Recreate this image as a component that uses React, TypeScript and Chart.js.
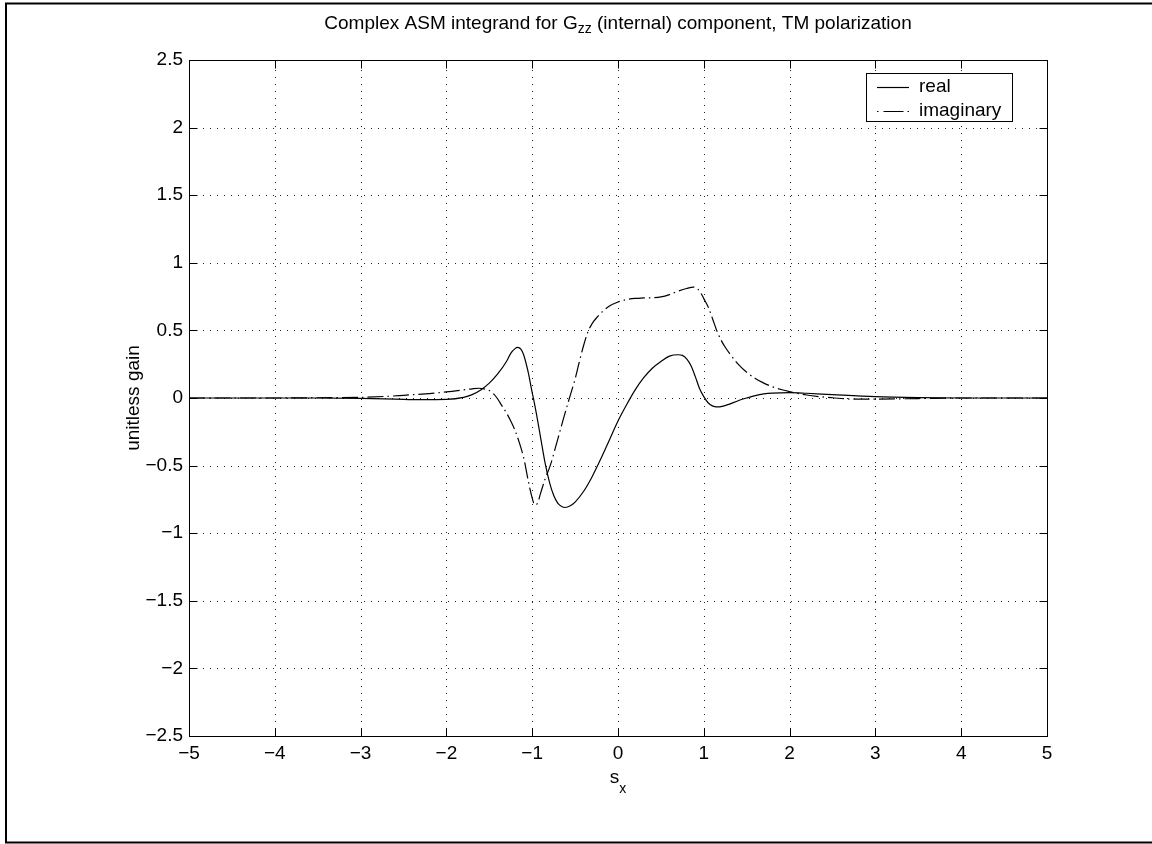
import { useEffect, useRef } from 'react';
import { Chart, registerables } from 'chart.js';

Chart.register(...registerables);

// Real part of the integrand, sampled along s_x
const sxReal = [
  -5, -4, -3.5, -3, -2.6, -2.3, -2.0, -1.8, -1.7, -1.6, -1.5, -1.4, -1.3, -1.25, -1.2, -1.17,
  -1.13, -1.1, -1.05, -1.0, -0.98, -0.95, -0.9, -0.85, -0.8, -0.75, -0.7, -0.65, -0.62, -0.55,
  -0.5, -0.4, -0.3, -0.2, -0.1, 0, 0.1, 0.2, 0.3, 0.4, 0.5, 0.6, 0.7, 0.75, 0.8, 0.85, 0.9,
  0.95, 1.0, 1.05, 1.1, 1.15, 1.2, 1.3, 1.4, 1.5, 1.6, 1.7, 1.8, 2.0, 2.2, 2.5, 3.0, 3.5, 4, 5,
];
const realPart = [
  0, 0, 0, -0.003, -0.008, -0.012, -0.01, 0.005, 0.025, 0.06, 0.11, 0.18, 0.27, 0.33, 0.365, 0.375,
  0.36, 0.32, 0.2, 0.04, -0.02, -0.12, -0.3, -0.48, -0.62, -0.72, -0.78, -0.805, -0.81, -0.795,
  -0.77, -0.69, -0.58, -0.45, -0.31, -0.17, -0.05, 0.06, 0.15, 0.22, 0.27, 0.31, 0.32, 0.315, 0.29, 0.24, 0.16,
  0.07, 0.01, -0.035, -0.058, -0.066, -0.064, -0.045, -0.02, 0.0, 0.018, 0.03, 0.036, 0.04, 0.035, 0.025, 0.01, 0.003, 0, 0,
];

// Imaginary part of the integrand, sampled along s_x
const sxImag = [
  -5, -4, -3.5, -3, -2.7, -2.5, -2.2, -2.0, -1.8, -1.7, -1.62, -1.55, -1.5, -1.45, -1.41, -1.35,
  -1.3, -1.25, -1.2, -1.15, -1.1, -1.08, -1.05, -1.0, -0.97, -0.94, -0.9, -0.85, -0.79, -0.7,
  -0.63, -0.566, -0.5, -0.45, -0.4, -0.35, -0.32, -0.28, -0.24, -0.18, -0.1, 0, 0.1, 0.2, 0.3,
  0.4, 0.5, 0.6, 0.7, 0.8, 0.88, 0.93, 0.98, 1.0, 1.05, 1.1, 1.15, 1.2, 1.25, 1.3, 1.4, 1.5,
  1.6, 1.7, 1.8, 1.9, 2.0, 2.2, 2.35, 2.5, 2.73, 3.0, 3.5, 4, 5,
];
const imagPart = [
  0, 0, 0.002, 0.005, 0.012, 0.02, 0.033, 0.045, 0.06, 0.068, 0.072, 0.066, 0.055, 0.03, 0.0, -0.06,
  -0.11, -0.17, -0.24, -0.33, -0.44, -0.5, -0.6, -0.74, -0.79, -0.78, -0.7, -0.6, -0.5, -0.3,
  -0.14, 0, 0.14, 0.27, 0.39, 0.49, 0.53, 0.57, 0.6, 0.64, 0.68, 0.71, 0.728, 0.737, 0.74,
  0.742, 0.748, 0.765, 0.79, 0.81, 0.82, 0.805, 0.76, 0.735, 0.675, 0.59, 0.5, 0.43, 0.375, 0.33, 0.25, 0.19,
  0.145, 0.11, 0.083, 0.063, 0.047, 0.022, 0.01, 0.002, -0.008, -0.008, -0.004, 0, 0,
];

const xTicks = [-5, -4, -3, -2, -1, 0, 1, 2, 3, 4, 5];
const yTicks = [-2.5, -2, -1.5, -1, -0.5, 0, 0.5, 1, 1.5, 2, 2.5];

const titleMain = 'Complex ASM integrand for G';
const titleSub = 'zz';
const titleTail = ' (internal) component, TM polarization';
const xLabelMain = 's';
const xLabelSub = 'x';
const yLabel = 'unitless gain';
const seriesNames = ['real', 'imaginary'];

const FONT = '"Liberation Sans", Arial, Helvetica, sans-serif';
const FONT_SIZE = 19;
const SUB_SIZE = 14;
const DASH_DOT = [16, 4, 1.5, 4];

const fmt = (v: number) => String(v).replace('-', '\u2212');

const framePlugin = {
  id: 'matlabFrame',
  beforeDraw(chart: any) {
    const { ctx, width, height } = chart;
    ctx.save();
    ctx.fillStyle = '#ffffff';
    ctx.fillRect(0, 0, width, height);
    // figure border
    ctx.strokeStyle = '#000';
    ctx.lineWidth = 2;
    ctx.beginPath();
    ctx.moveTo(width + 5, 3.5);
    ctx.lineTo(6, 3.5);
    ctx.lineTo(6, 842.5);
    ctx.lineTo(width + 5, 842.5);
    ctx.stroke();
    ctx.restore();
  },
  beforeDatasetsDraw(chart: any) {
    const { ctx, chartArea: a, scales } = chart;
    const xs = scales.x;
    const ys = scales.y;
    ctx.save();
    ctx.strokeStyle = '#222';
    ctx.lineWidth = 1;
    ctx.setLineDash([1, 6]);
    xTicks.slice(1, -1).forEach((v) => {
      const px = Math.round(xs.getPixelForValue(v)) + 0.5;
      ctx.beginPath();
      ctx.moveTo(px, a.bottom);
      ctx.lineTo(px, a.top);
      ctx.stroke();
    });
    yTicks.slice(1, -1).forEach((v) => {
      const py = Math.round(ys.getPixelForValue(v)) + 0.5;
      ctx.beginPath();
      ctx.moveTo(a.left, py);
      ctx.lineTo(a.right, py);
      ctx.stroke();
    });
    ctx.restore();
  },
  afterDatasetsDraw(chart: any) {
    const { ctx, chartArea: a, scales } = chart;
    const xs = scales.x;
    const ys = scales.y;
    const L = Math.round(a.left) + 0.5;
    const R = Math.round(a.right) + 0.5;
    const T = Math.round(a.top) + 0.5;
    const B = Math.round(a.bottom) + 0.5;
    ctx.save();
    ctx.strokeStyle = '#000';
    ctx.lineWidth = 1;
    ctx.setLineDash([]);
    ctx.strokeRect(L, T, R - L, B - T);
    // inward tick marks on all four sides
    const tl = 8;
    ctx.beginPath();
    xTicks.forEach((v) => {
      const px = Math.round(xs.getPixelForValue(v)) + 0.5;
      ctx.moveTo(px, B);
      ctx.lineTo(px, B - tl);
      ctx.moveTo(px, T);
      ctx.lineTo(px, T + tl);
    });
    yTicks.forEach((v) => {
      const py = Math.round(ys.getPixelForValue(v)) + 0.5;
      ctx.moveTo(L, py);
      ctx.lineTo(L + tl, py);
      ctx.moveTo(R, py);
      ctx.lineTo(R - tl, py);
    });
    ctx.stroke();

    // legend
    const bx = 866.5, by = 73.5, bw = 146, bh = 48;
    ctx.fillStyle = '#fff';
    ctx.fillRect(bx, by, bw, bh);
    ctx.strokeRect(bx, by, bw, bh);
    const rows = [87, 111];
    ctx.font = `${FONT_SIZE}px ${FONT}`;
    ctx.textBaseline = 'middle';
    ctx.textAlign = 'left';
    ctx.fillStyle = '#000';
    rows.forEach((ry, i) => {
      ctx.lineWidth = 1.2;
      ctx.setLineDash(i === 0 ? [] : [1.5, 5, 20, 4, 1.5, 60]);
      ctx.beginPath();
      ctx.moveTo(877, ry + 0.5);
      ctx.lineTo(909, ry + 0.5);
      ctx.stroke();
      ctx.fillText(seriesNames[i], 919, ry);
    });
    ctx.setLineDash([]);

    // title with subscript
    const cx = (a.left + a.right) / 2;
    const mainFont = `${FONT_SIZE}px ${FONT}`;
    const subFont = `${SUB_SIZE}px ${FONT}`;
    ctx.textBaseline = 'alphabetic';
    ctx.font = mainFont;
    const w1 = ctx.measureText(titleMain).width;
    const w3 = ctx.measureText(titleTail).width;
    ctx.font = subFont;
    const w2 = ctx.measureText(titleSub).width;
    let tx = cx - (w1 + w2 + w3) / 2;
    const tBase = 28.5;
    ctx.font = mainFont;
    ctx.fillText(titleMain, tx, tBase);
    tx += w1;
    ctx.font = subFont;
    ctx.fillText(titleSub, tx, tBase + 4.5);
    tx += w2;
    ctx.font = mainFont;
    ctx.fillText(titleTail, tx, tBase);

    // x-axis label
    ctx.font = mainFont;
    const ws = ctx.measureText(xLabelMain).width;
    ctx.font = subFont;
    const wx = ctx.measureText(xLabelSub).width;
    const lx = cx - (ws + wx) / 2;
    ctx.font = mainFont;
    ctx.fillText(xLabelMain, lx, 783);
    ctx.font = subFont;
    ctx.fillText(xLabelSub, lx + ws, 793);

    // y-axis label
    ctx.font = mainFont;
    ctx.translate(134, (a.top + a.bottom) / 2);
    ctx.rotate(-Math.PI / 2);
    ctx.textAlign = 'center';
    ctx.textBaseline = 'middle';
    ctx.fillText(yLabel, 0, 0);
    ctx.restore();
  },
};

export default function App() {
  const ref = useRef<HTMLCanvasElement | null>(null);

  useEffect(() => {
    if (!ref.current) return;
    const realPts = sxReal.map((x, i) => ({ x, y: realPart[i] }));
    const imagPts = sxImag.map((x, i) => ({ x, y: imagPart[i] }));
    const chart = new Chart(ref.current, {
      type: 'line',
      data: {
        datasets: [
          {
            label: seriesNames[0],
            data: realPts,
            borderColor: '#000',
            borderWidth: 1.2,
            pointRadius: 0,
            cubicInterpolationMode: 'monotone',
            fill: false,
          },
          {
            label: seriesNames[1],
            data: imagPts,
            borderColor: '#000',
            borderWidth: 1.2,
            borderDash: DASH_DOT,
            pointRadius: 0,
            cubicInterpolationMode: 'monotone',
            fill: false,
          },
        ],
      },
      options: {
        animation: false,
        responsive: false,
        events: [],
        layout: { padding: { left: 0, top: 60, right: 105, bottom: 0 } },
        plugins: {
          legend: { display: false },
          title: { display: false },
          tooltip: { enabled: false },
        },
        scales: {
          x: {
            type: 'linear',
            min: -5,
            max: 5,
            afterBuildTicks: (s: any) => {
              s.ticks = xTicks.map((v) => ({ value: v }));
            },
            afterFit: (s: any) => {
              s.height = 108;
            },
            grid: { display: false, drawTicks: false },
            border: { display: false },
            ticks: {
              color: '#000',
              padding: 6,
              maxRotation: 0,
              autoSkip: false,
              font: { family: FONT, size: FONT_SIZE },
              callback: (v: any) => fmt(Number(v)),
            },
          },
          y: {
            type: 'linear',
            min: -2.5,
            max: 2.5,
            afterBuildTicks: (s: any) => {
              s.ticks = yTicks.map((v) => ({ value: v }));
            },
            afterFit: (s: any) => {
              s.width = 189;
            },
            grid: { display: false, drawTicks: false },
            border: { display: false },
            ticks: {
              color: '#000',
              padding: 6,
              autoSkip: false,
              font: { family: FONT, size: FONT_SIZE },
              callback: (v: any) => fmt(Number(v)),
            },
          },
        },
      },
      plugins: [framePlugin],
    });
    return () => chart.destroy();
  }, []);

  return (
    <div style={{ position: 'absolute', left: 0, top: 0, width: 1152, height: 844, background: '#fff' }}>
      <canvas ref={ref} width={1152} height={844} style={{ display: 'block' }} />
    </div>
  );
}
